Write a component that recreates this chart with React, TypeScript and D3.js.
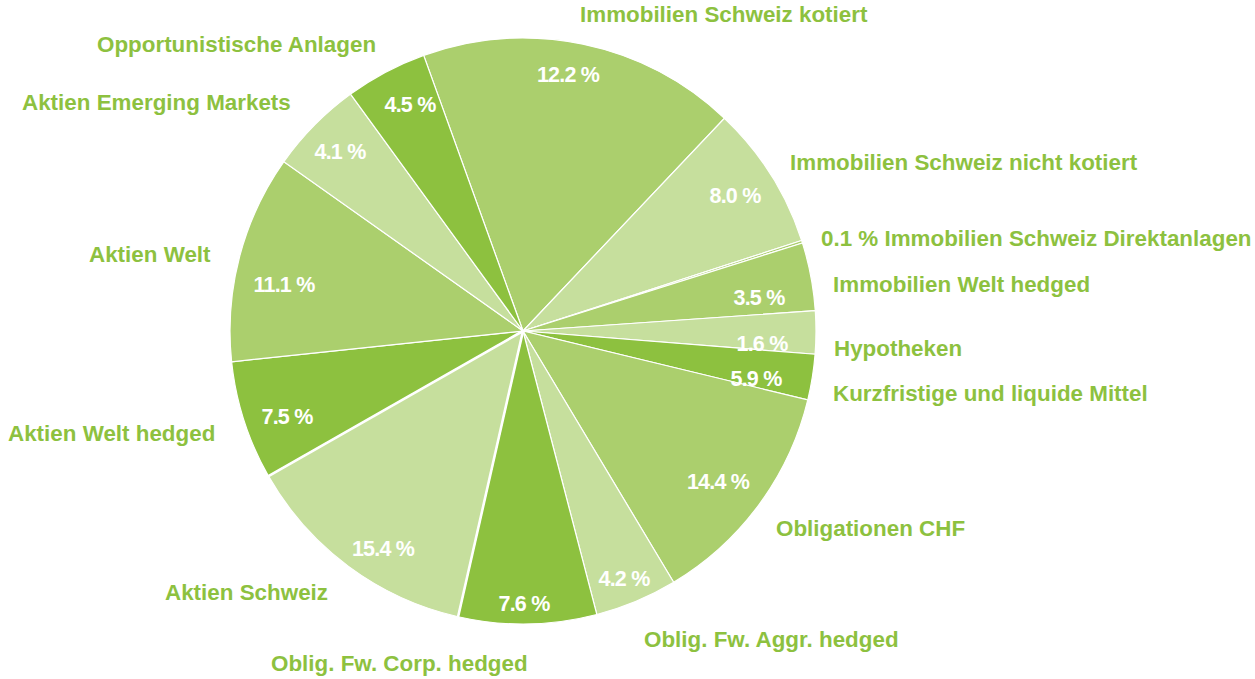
import React from "react";
import * as d3 from "d3";

// Slice shares as drawn in the picture (percent of the circle), clockwise
const categories = [
  "Immobilien Schweiz kotiert",
  "Immobilien Schweiz nicht kotiert",
  "Immobilien Schweiz Direktanlagen",
  "Immobilien Welt hedged",
  "Hypotheken",
  "Kurzfristige und liquide Mittel",
  "Obligationen CHF",
  "Oblig. Fw. Aggr. hedged",
  "Oblig. Fw. Corp. hedged",
  "Aktien Schweiz",
  "Aktien Welt hedged",
  "Aktien Welt",
  "Aktien Emerging Markets",
  "Opportunistische Anlagen",
];
const shares = [17.57, 7.94, 0.14, 3.75, 2.37, 2.51, 12.63, 4.54, 7.61, 13.2, 6.57, 11.48, 5.18, 4.51];
// Printed value labels
const valueLabels = ["12.2 %", "8.0 %", "", "3.5 %", "1.6 %", "5.9 %", "14.4 %", "4.2 %", "7.6 %", "15.4 %", "7.5 %", "11.1 %", "4.1 %", "4.5 %"];
const nameLabels = [
  "Immobilien Schweiz kotiert",
  "Immobilien Schweiz nicht kotiert",
  "0.1 % Immobilien Schweiz Direktanlagen",
  "Immobilien Welt hedged",
  "Hypotheken",
  "Kurzfristige und liquide Mittel",
  "Obligationen CHF",
  "Oblig. Fw. Aggr. hedged",
  "Oblig. Fw. Corp. hedged",
  "Aktien Schweiz",
  "Aktien Welt hedged",
  "Aktien Welt",
  "Aktien Emerging Markets",
  "Opportunistische Anlagen",
];
const shadeIndex = [1, 2, 1, 1, 2, 0, 1, 2, 0, 2, 0, 1, 2, 0];

// Layout (text anchors)
const valuePos: [number, number][] = [
  [568, 74], [735, 195], [0, 0], [759, 297], [762, 343], [756, 378], [718, 481],
  [624, 578], [524, 603], [383, 548], [287, 416], [284, 284], [340, 151], [410, 104],
];
const namePos: [number, number][] = [
  [580, 22], [790, 170], [821, 246], [833, 292], [834, 356], [833, 401], [776, 536],
  [644, 647], [271, 671], [165, 600], [8, 441], [89, 262], [22, 110], [97, 52],
];

const W = 1255;
const H = 679;
const CX = 523;
const CY = 331;
const R = 293;
const START = (-19.82 * Math.PI) / 180;
const shades = ["#8dc13f", "#abcf6d", "#c6df9d"];
const textGreen = "#8dc13f";
const font = "'Liberation Sans', Arial, Helvetica, sans-serif";

export default function App() {
  const pie = d3
    .pie<number>()
    .sort(null)
    .value((d) => d)
    .startAngle(START)
    .endAngle(START + 2 * Math.PI);
  const arcs = pie(shares);
  const arc = d3.arc<d3.PieArcDatum<number>>().innerRadius(0).outerRadius(R);
  const thick = new Set([9, 10]);
  return (
    <svg width={W} height={H} style={{ position: "absolute", left: 0, top: 0, background: "#fff" }}>
      <g transform={`translate(${CX},${CY})`}>
        {arcs.map((a, i) => (
          <path key={i} d={arc(a) || ""} fill={shades[shadeIndex[i]]} stroke="#fff" strokeWidth={1.2} />
        ))}
        {arcs.map((a, i) =>
          thick.has(i) ? (
            <line
              key={"t" + i}
              x1={0}
              y1={0}
              x2={R * Math.sin(a.startAngle)}
              y2={-R * Math.cos(a.startAngle)}
              stroke="#fff"
              strokeWidth={2.6}
            />
          ) : null
        )}
      </g>
      {valueLabels.map((t, i) =>
        t ? (
          <text
            key={"v" + i}
            x={valuePos[i][0]}
            y={valuePos[i][1] + 7.8}
            textAnchor="middle"
            fill="#fff"
            fontFamily={font}
            fontWeight="bold"
            fontSize={21.5}
            letterSpacing={-0.8}
          >
            {t}
          </text>
        ) : null
      )}
      {nameLabels.map((t, i) => (
        <text
          key={"n" + i}
          x={namePos[i][0]}
          y={namePos[i][1]}
          fill={textGreen}
          fontFamily={font}
          fontWeight="bold"
          fontSize={22.4}
        >
          {t}
        </text>
      ))}
    </svg>
  );
}
